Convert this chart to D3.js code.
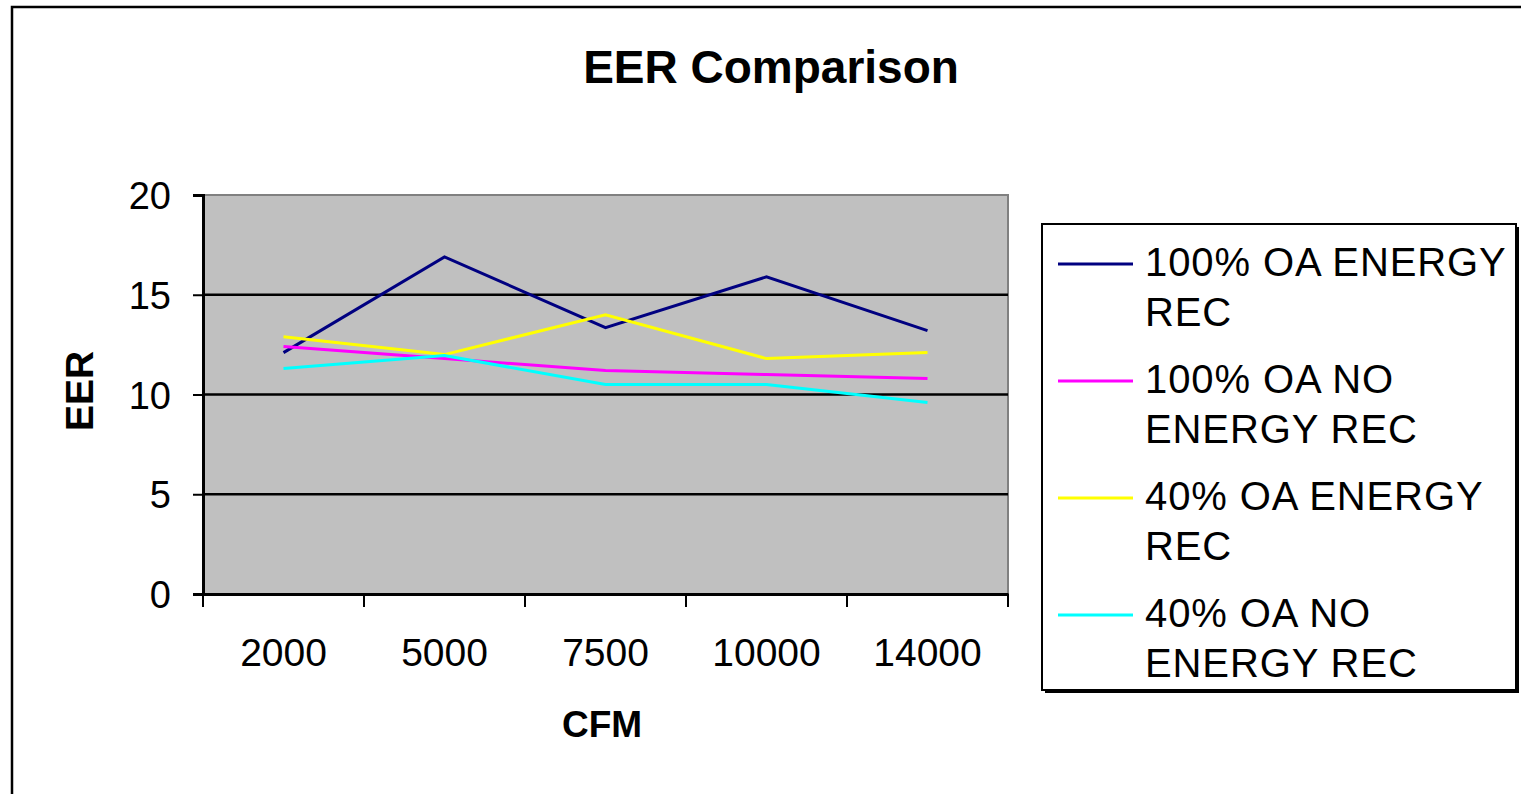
<!DOCTYPE html>
<html><head><meta charset="utf-8">
<script src="https://cdn.jsdelivr.net/npm/d3@7"></script>
<style>body{margin:0;background:#fff;overflow:hidden}svg{display:block;font-family:"Liberation Sans",Arial,sans-serif}</style>
</head><body>
<svg id="c" width="1521" height="794"></svg>
<script>
const categories = ["2000","5000","7500","10000","14000"];
const seriesNames = [["100% OA ENERGY","REC"],["100% OA NO","ENERGY REC"],["40% OA ENERGY","REC"],["40% OA NO","ENERGY REC"]];
const s100Rec = [12.1, 16.9, 13.35, 15.9, 13.2];
const s100NoRec = [12.4, 11.8, 11.2, 11.0, 10.8];
const s40Rec = [12.9, 12.0, 14.0, 11.8, 12.1];
const s40NoRec = [11.3, 11.95, 10.5, 10.5, 9.6];
const yTicks = [0, 5, 10, 15, 20];
const colors = ["#000080", "#FF00FF", "#FFFF00", "#00FFFF"];
const series = [s100Rec, s100NoRec, s40Rec, s40NoRec];

const svg = d3.select("#c");
const L = 203, R = 1008, T = 195, B = 594;
const x = d3.scaleBand().domain(categories).range([L, R]).padding(0);
const y = d3.scaleLinear().domain([0, 20]).range([B, T]);

// outer frame
svg.append("rect").attr("x", 12).attr("y", 7).attr("width", 1530).attr("height", 800)
  .attr("fill", "#fff").attr("stroke", "#000").attr("stroke-width", 2.5);

// plot area
svg.append("rect").attr("x", L).attr("y", T).attr("width", R - L).attr("height", B - T)
  .attr("fill", "#C0C0C0").attr("stroke", "#808080").attr("stroke-width", 2);

// gridlines
svg.append("g").selectAll("line").data(yTicks.filter(d => d > 0 && d < 20)).join("line")
  .attr("x1", L).attr("x2", R).attr("y1", d => y(d)).attr("y2", d => y(d))
  .attr("stroke", "#000").attr("stroke-width", 2.5);

// y axis
const yAxis = svg.append("g").attr("transform", `translate(${L},0)`)
  .call(d3.axisLeft(y).tickValues(yTicks).tickSize(10).tickPadding(22));
yAxis.select(".domain").attr("stroke", "#000").attr("stroke-width", 3);
yAxis.selectAll(".tick line").attr("stroke", "#000").attr("stroke-width", 2);
yAxis.selectAll("text").attr("font-size", 38).attr("fill", "#000")
  .attr("font-family", "'Liberation Sans', Arial, sans-serif").attr("dy", "0.36em");

// x axis
const xAxis = svg.append("g").attr("transform", `translate(0,${B})`)
  .call(d3.axisBottom(x).tickSize(0).tickPadding(0));
xAxis.select(".domain").attr("stroke", "#000").attr("stroke-width", 3);
xAxis.selectAll("text").attr("font-size", 39).attr("fill", "#000")
  .attr("font-family", "'Liberation Sans', Arial, sans-serif").attr("dy", null).attr("y", 72);
// x tick marks at band boundaries
const bounds = categories.map(c => x(c)).concat([R]);
svg.append("g").selectAll("line").data(bounds).join("line")
  .attr("x1", d => d).attr("x2", d => d).attr("y1", B).attr("y2", B + 13)
  .attr("stroke", "#000").attr("stroke-width", 2);

// lines
const line = d3.line().x((d, i) => x(categories[i]) + x.bandwidth() / 2).y(d => y(d));
series.forEach((s, i) => {
  svg.append("path").datum(s).attr("d", line).attr("fill", "none")
    .attr("stroke", colors[i]).attr("stroke-width", 3).attr("stroke-linejoin", "miter");
});

// title
svg.append("text").attr("x", 771).attr("y", 83).attr("text-anchor", "middle")
  .attr("font-size", 46).attr("font-weight", "bold").text("EER Comparison");
// axis titles
svg.append("text").attr("x", 602).attr("y", 737).attr("text-anchor", "middle")
  .attr("font-size", 37).attr("font-weight", "bold").text("CFM");
svg.append("text").attr("transform", "translate(93,391) rotate(-90)").attr("text-anchor", "middle")
  .attr("font-size", 39).attr("font-weight", "bold").text("EER");

// legend
const lg = svg.append("g");
lg.append("rect").attr("x", 1045).attr("y", 227).attr("width", 474).attr("height", 466)
  .attr("fill", "#000");
lg.append("rect").attr("x", 1042).attr("y", 224).attr("width", 474).attr("height", 466)
  .attr("fill", "#fff").attr("stroke", "#000").attr("stroke-width", 2);
seriesNames.forEach((nm, i) => {
  const yy = 264 + i * 117;
  lg.append("line").attr("x1", 1058).attr("x2", 1133).attr("y1", yy).attr("y2", yy)
    .attr("stroke", colors[i]).attr("stroke-width", 3);
  nm.forEach((t, j) => {
    lg.append("text").attr("x", 1145).attr("y", yy + 12 + j * 50)
      .attr("font-size", 40).attr("letter-spacing", 0.9).text(t);
  });
});
</script>
</body></html>
